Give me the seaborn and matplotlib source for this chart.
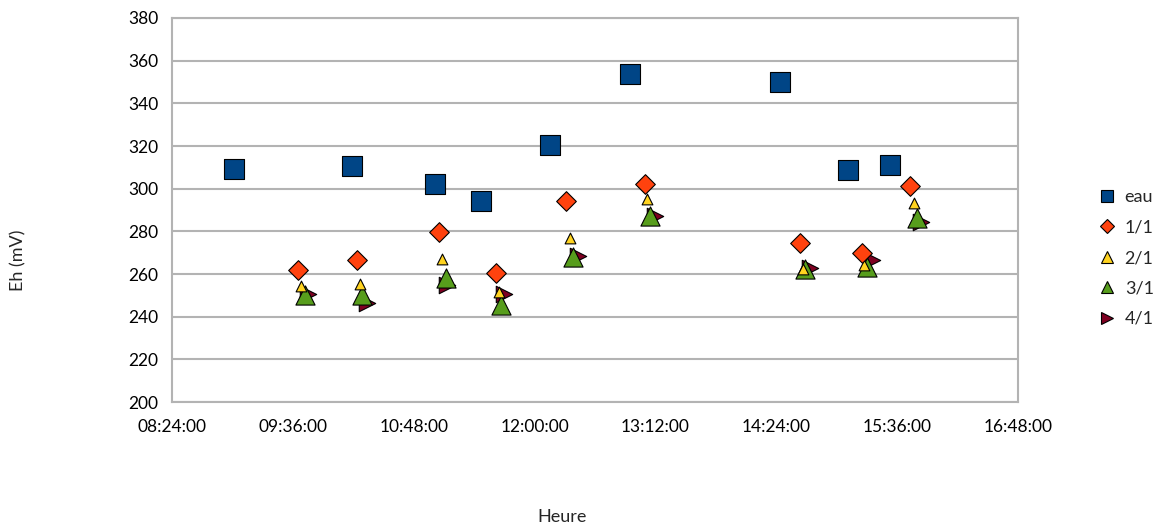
import pandas as pd
import numpy as np
import matplotlib
matplotlib.use("Agg")
import matplotlib.pyplot as plt
from matplotlib.lines import Line2D
import seaborn as sns

eau_t = ["09:01", "10:11", "11:01", "11:28", "12:09", "12:57", "14:26", "15:07", "15:32"]
eau_v = [309.2, 310.6, 302.2, 294.2, 320.5, 353.7, 350.0, 308.7, 311.1]

r11_t = ["09:39", "10:14", "11:03", "11:37", "12:19", "13:06", "14:38", "15:15", "15:44"]
r11_v = [262.0, 266.5, 279.7, 260.3, 294.4, 302.2, 274.4, 270.0, 301.2]

r21_t = ["09:41", "10:16", "11:05", "11:39", "12:21", "13:07", "14:40", "15:16", "15:46"]
r21_v = [254.4, 255.1, 266.9, 251.4, 276.7, 295.1, 262.3, 264.2, 293.4]

r31_t = ["09:43", "10:17", "11:07", "11:40", "12:23", "13:09", "14:41", "15:18", "15:48"]
r31_v = [250.1, 250.1, 258.3, 245.5, 268.1, 287.2, 262.2, 263.4, 286.1]

r41_t = ["09:45", "10:20", "11:08", "11:42", "12:26", "13:12", "14:44", "15:21", "15:50"]
r41_v = [250.6, 246.5, 254.8, 250.6, 268.4, 287.2, 262.7, 266.5, 284.5]

series = ["eau", "1/1", "2/1", "3/1", "4/1"]
times = [eau_t, r11_t, r21_t, r31_t, r41_t]
values = [eau_v, r11_v, r21_v, r31_v, r41_v]
colors = ["#004586", "#ff420e", "#ffd320", "#579d1c", "#7e0021"]
markers = ["s", "D", "^", "^", ">"]
sizes = [190, 100, 60, 190, 140]
leg_sizes = [9, 7, 9, 9, 9]

def to_hours(t):
    h, m = t.split(":")
    return int(h) + int(m) / 60.0

rows = []
for name, ts, vs in zip(series, times, values):
    for t, v in zip(ts, vs):
        rows.append({"serie": name, "heure": to_hours(t), "eh": v})
df = pd.DataFrame(rows)

sns.set_style("white")
plt.rcParams["font.family"] = ["Lato", "DejaVu Sans"]

fig = plt.figure(figsize=(11.66, 5.29), dpi=100)
ax = fig.add_axes([0.1475, 0.240, 0.7255, 0.726])

# draw last series first so 'eau' and 1/1 sit on top
for i in reversed(range(len(series))):
    sub = df[df["serie"] == series[i]]
    sns.scatterplot(data=sub, x="heure", y="eh", ax=ax, color=colors[i],
                    marker=markers[i], s=sizes[i], edgecolor="black",
                    linewidth=0.8, legend=False, zorder=3)

xt = np.arange(8.4, 16.81, 1.2)
def fmt(h):
    mins = int(round(h * 60))
    return "%02d:%02d:00" % (mins // 60, mins % 60)

ax.set_xlim(8.4, 16.8)
ax.set_ylim(200, 380)
ax.set_xticks(xt)
ax.set_xticklabels([fmt(h) for h in xt])
ax.set_yticks(range(200, 381, 20))
ax.tick_params(axis="both", length=0, labelsize=12.5, colors="black")
ax.tick_params(axis="x", pad=12)
ax.tick_params(axis="y", pad=10)

ax.yaxis.grid(True, color="#b3b3b3", linewidth=1.5)
ax.xaxis.grid(False)
ax.set_axisbelow(True)
for sp in ax.spines.values():
    sp.set_color("#b3b3b3")
    sp.set_linewidth(1.5)

ax.set_xlabel("")
ax.set_ylabel("")
fig.text(562 / 1166, 1 - 517 / 529, "Heure", fontsize=13, ha="center", va="center")
fig.text(18 / 1166, 1 - 260 / 529, "Eh (mV)", fontsize=13, ha="center", va="center",
         rotation=90)

handles = [Line2D([], [], linestyle="none", marker=m, markersize=s,
                  markerfacecolor=c, markeredgecolor="black", markeredgewidth=0.8)
           for m, s, c in zip(markers, leg_sizes, colors)]
ax.legend(handles, series, loc="center left", bbox_to_anchor=(1.075, 0.375),
          frameon=False, fontsize=13, handletextpad=0.5, labelspacing=0.8,
          handlelength=1.0)

fig.savefig("out.png", dpi=100)
